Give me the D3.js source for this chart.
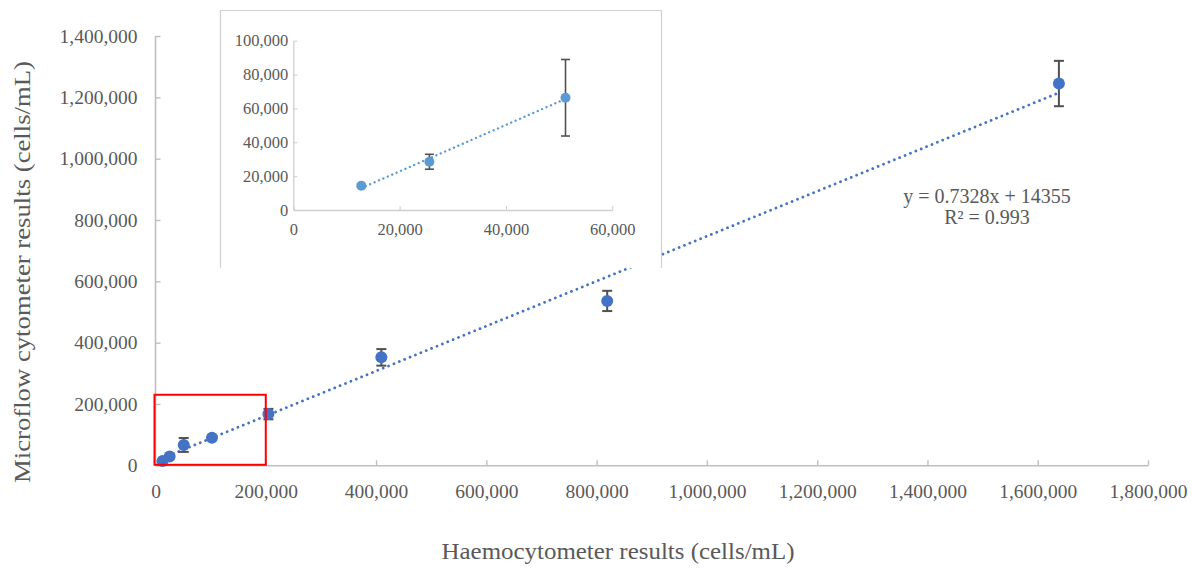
<!DOCTYPE html>
<html>
<head>
<meta charset="utf-8">
<script src="https://cdn.jsdelivr.net/npm/d3@7"></script>
<style>
  html, body { margin: 0; padding: 0; background: #fff; }
  svg { display: block; font-family: "Liberation Serif", "Times New Roman", serif; }
  svg text { font-family: "Liberation Serif", "Times New Roman", serif; }
</style>
</head>
<body>
<svg id="chart" width="1192" height="570"></svg>
<script>
// Haemocytometer counts (cells/mL) and matching microflow cytometer counts
const haemocytometer = [12800, 25600, 51200, 102400, 204800, 409600, 819200, 1638400];
const microflow      = [14300, 28500, 66300, 90000, 167000, 352000, 536000, 1245000];
const microflowSD    = [800, 4400, 22600, 4000, 17000, 27000, 33000, 74000];

// Fitted line shown on the main plot
const fitSlope = 0.7328;
const fitIntercept = 14355;
const fitR2 = 0.993;

// Tick values
const mainXTicks = [0, 200000, 400000, 600000, 800000, 1000000, 1200000, 1400000, 1600000, 1800000];
const mainYTicks = [0, 200000, 400000, 600000, 800000, 1000000, 1200000, 1400000];
const insetXTicks = [0, 20000, 40000, 60000];
const insetYTicks = [0, 20000, 40000, 60000, 80000, 100000];

// Low range highlighted on the main plot and enlarged in the inset
const zoomBox = { x: [0, 200000], y: [0, 230000] };
const insetCount = 3;

const fmt = d3.format(",");
const svg = d3.select("#chart");

const TEXT = "#595959";
const AXIS = "#BFBFBF";
const BLUE = "#4472C4";
const LIGHTBLUE = "#5B9BD5";
const ERR = "#505050";
const SERIF = '"Liberation Serif", "Times New Roman", serif';

function styleAxis(g, color, width, size) {
  g.attr("font-family", null).attr("font-size", null);
  g.select(".domain").attr("stroke", color).attr("stroke-width", width);
  g.selectAll(".tick line").attr("stroke", color).attr("stroke-width", width - 0.2);
  g.selectAll(".tick text").attr("fill", TEXT)
    .style("font-family", SERIF).style("font-size", size + "px");
}

// ---------- main plot ----------
const x = d3.scaleLinear().domain([0, 1800000]).range([155.5, 1148]);
const y = d3.scaleLinear().domain([0, 1400000]).range([465.3, 36]);

const xAxis = svg.append("g")
  .attr("transform", `translate(0,${y(0)})`)
  .call(d3.axisBottom(x).tickValues(mainXTicks).tickFormat(fmt)
    .tickSizeInner(-5).tickSizeOuter(0).tickPadding(19));
const yAxis = svg.append("g")
  .attr("transform", `translate(${x(0)},0)`)
  .call(d3.axisLeft(y).tickValues(mainYTicks).tickFormat(fmt)
    .tickSizeInner(-5).tickSizeOuter(0).tickPadding(18));
styleAxis(xAxis, AXIS, 1.6, 19.5);
styleAxis(yAxis, AXIS, 1.6, 19.5);
yAxis.select(".domain").attr("d", `M0,${y(1400000)}V${y(0)}`);

// axis titles (slightly wide serif lettering)
svg.append("text")
  .attr("x", 618).attr("y", 559)
  .attr("text-anchor", "middle").attr("fill", TEXT)
  .style("font-size", "22.5px")
  .attr("textLength", 353).attr("lengthAdjust", "spacingAndGlyphs")
  .text("Haemocytometer results (cells/mL)");
svg.append("text")
  .attr("transform", "translate(30,272) rotate(-90)")
  .attr("text-anchor", "middle").attr("fill", TEXT)
  .style("font-size", "22.5px")
  .attr("textLength", 422).attr("lengthAdjust", "spacingAndGlyphs")
  .text("Microflow cytometer results (cells/mL)");

// dotted fitted line across the data range
const xMin = d3.min(haemocytometer), xMax = d3.max(haemocytometer);
svg.append("line")
  .attr("x1", x(xMin)).attr("y1", y(fitSlope * xMin + fitIntercept))
  .attr("x2", x(xMax)).attr("y2", y(fitSlope * xMax + fitIntercept))
  .attr("stroke", BLUE).attr("stroke-width", 2.8)
  .attr("stroke-linecap", "round").attr("stroke-dasharray", "0.01 5.8");

const pts = haemocytometer.map((h, i) => ({ h, m: microflow[i], sd: microflowSD[i] }));

// error bars
const eb = svg.append("g").attr("stroke", ERR).attr("stroke-width", 2);
pts.forEach(d => {
  eb.append("line").attr("x1", x(d.h)).attr("x2", x(d.h))
    .attr("y1", y(d.m - d.sd)).attr("y2", y(d.m + d.sd));
  [d.m - d.sd, d.m + d.sd].forEach(v => {
    eb.append("line").attr("x1", x(d.h) - 5).attr("x2", x(d.h) + 5)
      .attr("y1", y(v)).attr("y2", y(v));
  });
});

// markers
svg.append("g").selectAll("circle").data(pts).join("circle")
  .attr("cx", d => x(d.h)).attr("cy", d => y(d.m)).attr("r", 6)
  .attr("fill", BLUE);

// fit equation
const eq = svg.append("text").attr("text-anchor", "middle").attr("fill", TEXT)
  .style("font-size", "20px");
eq.append("tspan").attr("x", 987).attr("y", 203)
  .text(`y = ${fitSlope}x + ${fitIntercept}`);
eq.append("tspan").attr("x", 987).attr("y", 224)
  .text(`R² = ${fitR2}`);

// highlighted low range
svg.append("rect")
  .attr("x", x(zoomBox.x[0]) - 1).attr("y", y(zoomBox.y[1]))
  .attr("width", x(zoomBox.x[1]) - x(zoomBox.x[0]) + 1)
  .attr("height", y(zoomBox.y[0]) - y(zoomBox.y[1]) - 0.5)
  .attr("fill", "none").attr("stroke", "#FF0000").attr("stroke-width", 2);

// ---------- inset ----------
const inset = svg.append("g");
inset.append("rect").attr("x", 220.5).attr("y", 10.5).attr("width", 441).attr("height", 257.5)
  .attr("fill", "#fff").attr("stroke", "none");
inset.append("path")
  .attr("d", "M220.5,268V10.5H661.5V268")
  .attr("fill", "none").attr("stroke", "#D0D0D0").attr("stroke-width", 1.2);

const ix = d3.scaleLinear().domain([0, 60000]).range([293.3, 612.3]);
const iy = d3.scaleLinear().domain([0, 100000]).range([210, 40.7]);

const ixAxis = inset.append("g")
  .attr("transform", `translate(0,${iy(0)})`)
  .call(d3.axisBottom(ix).tickValues(insetXTicks).tickFormat(fmt)
    .tickSizeInner(-4).tickSizeOuter(0).tickPadding(13));
const iyAxis = inset.append("g")
  .attr("transform", `translate(${ix(0)},0)`)
  .call(d3.axisLeft(iy).tickValues(insetYTicks).tickFormat(fmt)
    .tickSizeInner(-4).tickSizeOuter(0).tickPadding(5));
styleAxis(ixAxis, "#D0D0D0", 1.3, 16.5);
styleAxis(iyAxis, "#D0D0D0", 1.3, 16.5);

const ipts = pts.slice(0, insetCount);
// least-squares line through the inset points
const mx = d3.mean(ipts, d => d.h), my = d3.mean(ipts, d => d.m);
const sxy = d3.sum(ipts, d => (d.h - mx) * (d.m - my));
const sxx = d3.sum(ipts, d => (d.h - mx) ** 2);
const iSlope = sxy / sxx, iInt = my - iSlope * mx;
const ih0 = d3.min(ipts, d => d.h), ih1 = d3.max(ipts, d => d.h);
inset.append("line")
  .attr("x1", ix(ih0)).attr("y1", iy(iSlope * ih0 + iInt))
  .attr("x2", ix(ih1)).attr("y2", iy(iSlope * ih1 + iInt))
  .attr("stroke", LIGHTBLUE).attr("stroke-width", 2.4)
  .attr("stroke-linecap", "round").attr("stroke-dasharray", "0.01 4.8");

const ieb = inset.append("g").attr("stroke", ERR).attr("stroke-width", 1.6);
ipts.forEach(d => {
  ieb.append("line").attr("x1", ix(d.h)).attr("x2", ix(d.h))
    .attr("y1", iy(d.m - d.sd)).attr("y2", iy(d.m + d.sd));
  [d.m - d.sd, d.m + d.sd].forEach(v => {
    ieb.append("line").attr("x1", ix(d.h) - 4.5).attr("x2", ix(d.h) + 4.5)
      .attr("y1", iy(v)).attr("y2", iy(v));
  });
});
inset.append("g").selectAll("circle").data(ipts).join("circle")
  .attr("cx", d => ix(d.h)).attr("cy", d => iy(d.m)).attr("r", 5)
  .attr("fill", LIGHTBLUE);
</script>
</body>
</html>
